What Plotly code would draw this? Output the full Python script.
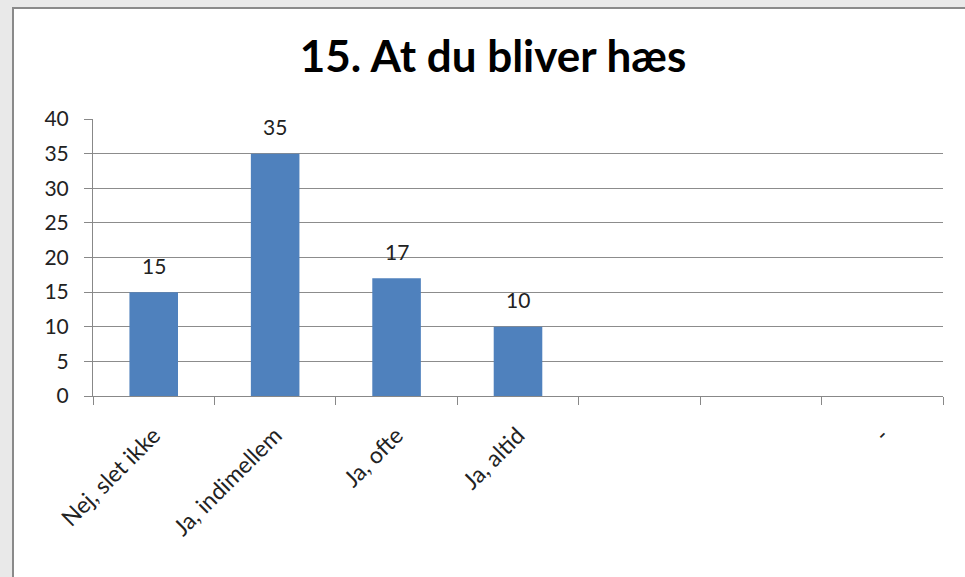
import plotly.graph_objects as go

categories = ["Nej, slet ikke", "Ja, indimellem", "Ja, ofte", "Ja, altid", " ", "  ", "-"]
values = [15, 35, 17, 10, None, None, None]
y_ticks = [0, 5, 10, 15, 20, 25, 30, 35, 40]
title_text = "15. At du bliver hæs"

W, H = 965, 577
ML, MR, MT, MB = 93, 22, 119, 181
PW, PH = W - ML - MR, H - MT - MB


def px_x(p):
    return (p - ML) / PW


def px_y(p):
    return (H - MB - p) / PH


FONT = "Lato, 'Open Sans', sans-serif"

fig = go.Figure()
fig.add_trace(go.Bar(
    x=categories, y=values,
    marker=dict(color="#4F81BD", line=dict(width=0)),
    hoverinfo="x+y",
))

annotations = []
for c, v in zip(categories, values):
    if v is None:
        continue
    annotations.append(dict(
        x=c, y=v, xref="x", yref="y", text=str(v), showarrow=False,
        yanchor="middle", yshift=27,
        font=dict(family=FONT, size=21, color="#222222"),
    ))

shapes = [
    # white chart sheet
    dict(type="rect", xref="paper", yref="paper", layer="below",
         x0=px_x(13), x1=px_x(W + 10), y0=px_y(H + 10), y1=px_y(8),
         fillcolor="white", line=dict(color="#8a8a8a", width=2)),
]

fig.update_layout(
    width=W, height=H,
    margin=dict(l=ML, r=MR, t=MT, b=MB),
    paper_bgcolor="#e9e9e9",
    plot_bgcolor="white",
    bargap=0.6,
    showlegend=False,
    title=dict(text=f"<b>{title_text}</b>", x=(493) / W, xanchor="center",
               y=1 - 57 / H, yanchor="middle",
               font=dict(family=FONT, size=44, color="#000000")),
    annotations=annotations,
    shapes=shapes,
    xaxis=dict(
        type="category", categoryorder="array", categoryarray=categories,
        showline=True, linecolor="#888888", linewidth=1,
        ticks="outside", ticklen=8, tickcolor="#888888", tickson="boundaries",
        tickangle=-45, showgrid=False,
        tickfont=dict(family=FONT, size=23, color="#222222"),
        ticklabelstandoff=16,
    ),
    yaxis=dict(
        range=[0, 40], tickvals=y_ticks,
        showline=True, linecolor="#888888", linewidth=1,
        ticks="outside", ticklen=8, tickcolor="#888888",
        showgrid=True, gridcolor="#8c8c8c", gridwidth=1,
        zeroline=False,
        tickfont=dict(family=FONT, size=21, color="#222222"),
        ticklabelstandoff=11,
    ),
)

fig.write_html(
    "out.html",
    config={"displayModeBar": False},
    post_script="document.body.style.margin='0';document.body.style.overflow='hidden';",
)
